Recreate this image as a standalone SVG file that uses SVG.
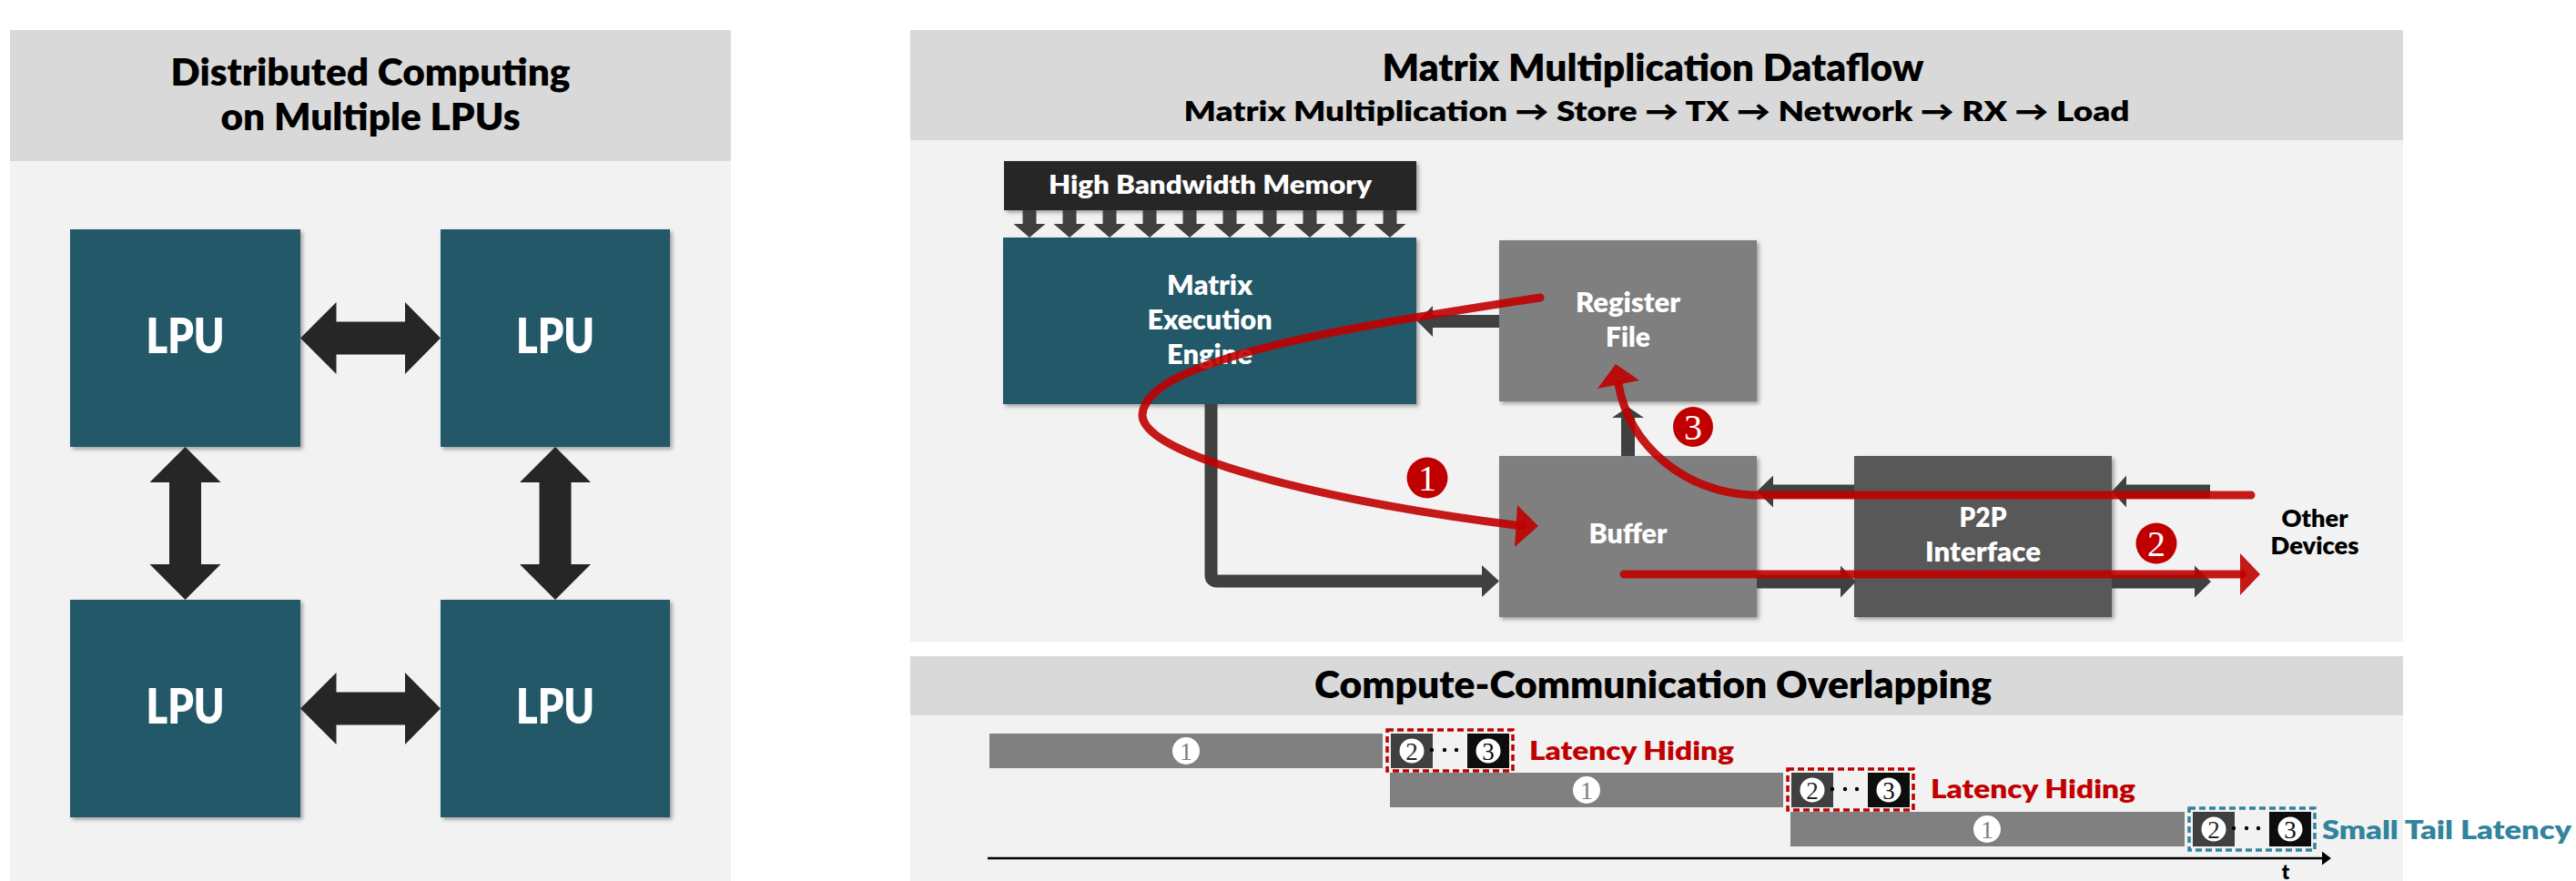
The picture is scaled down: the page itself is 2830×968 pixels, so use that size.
<svg xmlns="http://www.w3.org/2000/svg" width="2830" height="968" viewBox="0 0 2830 968">
<defs>
<style>
.hdr{fill:#d9d9d9}
.body{fill:#f2f2f2}
.t{font-family:Lato,'Open Sans','DejaVu Sans',sans-serif;font-weight:800}
.ttl{font-size:41px;fill:#000;text-anchor:middle}
.sub{font-size:30px;fill:#000;text-anchor:middle}
.w{fill:#fff;text-anchor:middle}
.lbl{font-size:30px}
.teal{fill:#215868}
.gray{fill:#7f7f7f}
.dark{fill:#595959}
.arr{fill:#404040}
.dbl{fill:#262626}
.redl{fill:none;stroke:#c00000;stroke-width:9;stroke-linecap:round;stroke-opacity:.9}
.redh{fill:#c00000;fill-opacity:.9}
.num{font-family:'Liberation Serif','DejaVu Serif',serif;text-anchor:middle}
.bar{fill:#808080}
.b2{fill:#404040}
.b3{fill:#0d0d0d}
.dr{fill:none;stroke:#c00000;stroke-width:3.5;stroke-dasharray:7 4}
.dt{fill:none;stroke:#31849b;stroke-width:3.5;stroke-dasharray:7 4}
.lh{font-size:29px;fill:#c00000}
</style>
<filter id="sh" x="-10%" y="-10%" width="130%" height="130%"><feDropShadow dx="2.5" dy="2.5" stdDeviation="2" flood-color="#000" flood-opacity="0.35"/></filter>
</defs>
<rect width="2830" height="968" fill="#fff"/>

<!-- Left panel -->
<g id="panel-left">
<rect class="hdr" x="11" y="33" width="792" height="144"/>
<rect class="body" x="11" y="177" width="792" height="791"/>
<text class="t ttl" x="407" y="94" textLength="439" lengthAdjust="spacingAndGlyphs">Distributed Computing</text>
<text class="t ttl" x="407" y="143" textLength="329" lengthAdjust="spacingAndGlyphs">on Multiple LPUs</text>
</g>
<g id="lpu-tl"><rect class="teal" x="77" y="252" width="253" height="239" filter="url(#sh)"/><text class="t w" x="203.5" y="388" font-size="52" textLength="86" lengthAdjust="spacingAndGlyphs">LPU</text></g>
<g id="lpu-tr"><rect class="teal" x="484" y="252" width="252" height="239" filter="url(#sh)"/><text class="t w" x="610" y="388" font-size="52" textLength="86" lengthAdjust="spacingAndGlyphs">LPU</text></g>
<g id="lpu-bl"><rect class="teal" x="77" y="659" width="253" height="239" filter="url(#sh)"/><text class="t w" x="203.5" y="795" font-size="52" textLength="86" lengthAdjust="spacingAndGlyphs">LPU</text></g>
<g id="lpu-br"><rect class="teal" x="484" y="659" width="252" height="239" filter="url(#sh)"/><text class="t w" x="610" y="795" font-size="52" textLength="86" lengthAdjust="spacingAndGlyphs">LPU</text></g>

<!-- Right top panel -->
<g id="panel-dataflow">
<rect class="hdr" x="1000" y="33" width="1640" height="121"/>
<rect class="body" x="1000" y="154" width="1640" height="551"/>
<text class="t ttl" x="1816" y="89" font-size="39" textLength="595" lengthAdjust="spacingAndGlyphs">Matrix Multiplication Dataflow</text>
<text class="t sub" x="1820" y="133" textLength="1039" lengthAdjust="spacingAndGlyphs">Matrix Multiplication → Store → TX → Network → RX → Load</text>
</g>
<g id="hbm">
<rect x="1103" y="177" width="453" height="54" fill="#262626" filter="url(#sh)"/>
<text class="t w" x="1329.5" y="213" font-size="29" textLength="355" lengthAdjust="spacingAndGlyphs">High Bandwidth Memory</text>
</g>
<g id="mee">
<rect class="teal" x="1102" y="261" width="454" height="183" filter="url(#sh)"/>
<text class="t w lbl" x="1329" y="324" textLength="94" lengthAdjust="spacingAndGlyphs">Matrix</text>
<text class="t w lbl" x="1329" y="362" textLength="137" lengthAdjust="spacingAndGlyphs">Execution</text>
<text class="t w lbl" x="1329" y="400" textLength="94" lengthAdjust="spacingAndGlyphs">Engine</text>
</g>
<g id="register-file">
<rect class="gray" x="1647" y="264" width="283" height="177" filter="url(#sh)"/>
<text class="t w lbl" x="1788.5" y="343" textLength="115" lengthAdjust="spacingAndGlyphs">Register</text>
<text class="t w lbl" x="1788.5" y="381" textLength="49" lengthAdjust="spacingAndGlyphs">File</text>
</g>
<g id="buffer">
<rect class="gray" x="1647" y="501" width="283" height="177" filter="url(#sh)"/>
<text class="t w lbl" x="1788.5" y="597" textLength="86" lengthAdjust="spacingAndGlyphs">Buffer</text>
</g>
<g id="p2p">
<rect class="dark" x="2037" y="501" width="283" height="177" filter="url(#sh)"/>
<text class="t w lbl" x="2178.5" y="579" textLength="52" lengthAdjust="spacingAndGlyphs">P2P</text>
<text class="t w lbl" x="2178.5" y="617" textLength="127" lengthAdjust="spacingAndGlyphs">Interface</text>
</g>
<g id="other-devices">
<text class="t" x="2543" y="579" font-size="27" text-anchor="middle" textLength="73" lengthAdjust="spacingAndGlyphs">Other</text>
<text class="t" x="2543" y="609" font-size="27" text-anchor="middle" textLength="97" lengthAdjust="spacingAndGlyphs">Devices</text>
</g>

<!-- Bottom panel -->
<g id="panel-overlap">
<rect class="hdr" x="1000" y="721" width="1640" height="65"/>
<rect class="body" x="1000" y="786" width="1640" height="182"/>
<text class="t ttl" x="1816" y="767" font-size="39" textLength="744" lengthAdjust="spacingAndGlyphs">Compute-Communication Overlapping</text>
</g>

<g id="timeline">
<g id="row1">
<rect class="bar" x="1087" y="806" width="432" height="38"/>
<circle cx="1303" cy="825" r="15" fill="#fff"/><text class="num" x="1303" y="834.5" font-size="28" fill="#808080">1</text>
<rect class="b2" x="1528" y="806" width="46" height="38"/>
<circle cx="1551" cy="825" r="13.5" fill="#fff"/><text class="num" x="1551" y="834.5" font-size="27" fill="#262626">2</text>
<circle cx="1573" cy="824" r="2.2" fill="#000"/><circle cx="1587" cy="824" r="2.2" fill="#000"/><circle cx="1600" cy="824" r="2.2" fill="#000"/>
<rect class="b3" x="1612" y="806" width="46" height="38"/>
<circle cx="1635" cy="825" r="13.5" fill="#fff"/><text class="num" x="1635" y="834.5" font-size="27" fill="#0d0d0d">3</text>
<rect class="dr" x="1524" y="802" width="138" height="45"/>
<text class="t lh" x="1680" y="835" textLength="225" lengthAdjust="spacingAndGlyphs">Latency Hiding</text>
</g>
<g id="row2">
<rect class="bar" x="1527" y="849" width="432" height="38"/>
<circle cx="1743" cy="868" r="15" fill="#fff"/><text class="num" x="1743" y="877.5" font-size="28" fill="#808080">1</text>
<rect class="b2" x="1968" y="849" width="46" height="38"/>
<circle cx="1991" cy="868" r="13.5" fill="#fff"/><text class="num" x="1991" y="877.5" font-size="27" fill="#262626">2</text>
<circle cx="2013" cy="867" r="2.2" fill="#000"/><circle cx="2027" cy="867" r="2.2" fill="#000"/><circle cx="2040" cy="867" r="2.2" fill="#000"/>
<rect class="b3" x="2052" y="849" width="46" height="38"/>
<circle cx="2075" cy="868" r="13.5" fill="#fff"/><text class="num" x="2075" y="877.5" font-size="27" fill="#0d0d0d">3</text>
<rect class="dr" x="1964" y="845" width="138" height="45"/>
<text class="t lh" x="2121" y="877" textLength="225" lengthAdjust="spacingAndGlyphs">Latency Hiding</text>
</g>
<g id="row3">
<rect class="bar" x="1967" y="892" width="433" height="38"/>
<circle cx="2183" cy="911" r="15" fill="#fff"/><text class="num" x="2183" y="920.5" font-size="28" fill="#808080">1</text>
<rect class="b2" x="2409" y="892" width="46" height="38"/>
<circle cx="2432" cy="911" r="13.5" fill="#fff"/><text class="num" x="2432" y="920.5" font-size="27" fill="#262626">2</text>
<circle cx="2454" cy="910" r="2.2" fill="#000"/><circle cx="2468" cy="910" r="2.2" fill="#000"/><circle cx="2481" cy="910" r="2.2" fill="#000"/>
<rect class="b3" x="2493" y="892" width="46" height="38"/>
<circle cx="2516" cy="911" r="13.5" fill="#fff"/><text class="num" x="2516" y="920.5" font-size="27" fill="#0d0d0d">3</text>
<rect class="dt" x="2405" y="888" width="138" height="46"/>
<text class="t" x="2551" y="922" font-size="29" fill="#31849b" textLength="274" lengthAdjust="spacingAndGlyphs">Small Tail Latency</text>
</g>
<g id="axis">
<line x1="1085" y1="943" x2="2553" y2="943" stroke="#000" stroke-width="2.5"/>
<polygon points="2561,943 2551,935.5 2551,950.5" fill="#000"/>
<text class="t" x="2511" y="966" font-size="22" text-anchor="middle">t</text>
</g>
</g>

<!-- Connectors -->
<g id="connectors">
<polygon class="dbl" points="330,371.5 369.5,332 369.5,353.5 445,353.5 445,332 484,371.5 445,411 445,389.5 369.5,389.5 369.5,411"/>
<polygon class="dbl" points="330,778.5 369.5,739 369.5,760.5 445,760.5 445,739 484,778.5 445,818 445,796.5 369.5,796.5 369.5,818"/>
<polygon class="dbl" points="203.5,491 164.5,530 186,530 186,620 164.5,620 203.5,659 242.5,620 221,620 221,530 242.5,530"/>
<polygon class="dbl" points="610,491 571,530 592.5,530 592.5,620 571,620 610,659 649,620 627.5,620 627.5,530 649,530"/>

<g class="arr">
<path d="M1123.5,231h15v15h10l-17.5,15l-17.5,-15h10z"/>
<path d="M1167.5,231h15v15h10l-17.5,15l-17.5,-15h10z"/>
<path d="M1211.5,231h15v15h10l-17.5,15l-17.5,-15h10z"/>
<path d="M1255.5,231h15v15h10l-17.5,15l-17.5,-15h10z"/>
<path d="M1299.5,231h15v15h10l-17.5,15l-17.5,-15h10z"/>
<path d="M1343.5,231h15v15h10l-17.5,15l-17.5,-15h10z"/>
<path d="M1387.5,231h15v15h10l-17.5,15l-17.5,-15h10z"/>
<path d="M1431.5,231h15v15h10l-17.5,15l-17.5,-15h10z"/>
<path d="M1475.5,231h15v15h10l-17.5,15l-17.5,-15h10z"/>
<path d="M1519.5,231h15v15h10l-17.5,15l-17.5,-15h10z"/>
</g>

<g class="arr">
<polygon points="1557,353 1574,336 1574,346 1647,346 1647,360 1574,360 1574,370"/>
<polygon points="1788.5,447 1806,459 1796,459 1796,501 1781,501 1781,459 1771,459"/>
<polygon points="1930,540 1948,522.5 1948,532.5 2037,532.5 2037,547.5 1948,547.5 1948,557.5"/>
<polygon points="2320,540 2336,522.5 2336,532.5 2428,532.5 2428,547.5 2336,547.5 2336,557.5"/>
<polygon points="2039,639 2022,621.5 2022,631.5 1930,631.5 1930,646.5 2022,646.5 2022,656.5"/>
<polygon points="2429,639 2411,621.5 2411,631.5 2320,631.5 2320,646.5 2411,646.5 2411,656.5"/>
</g>
<path d="M1330.5,444 V632 Q1330.5,638.5 1337,638.5 H1630" fill="none" stroke="#404040" stroke-width="14"/>
<polygon class="arr" points="1647,638.5 1628,621 1628,656"/>

<path class="redl" d="M1692,327 C1500,357 1258,392 1255,456 C1255,500 1450,550 1672,578"/>
<polygon class="redh" points="1690,578 1667,555 1664,601"/>
<path class="redl" d="M1784,631 H2463"/>
<polygon class="redh" points="2483,631 2461,608 2461,654"/>
<path class="redl" d="M2473,544 H1925 C1850,540 1790,490 1778,422"/>
<polygon class="redh" points="1775,400 1755,427 1801,418"/>
</g>

<g id="step-labels">
<circle cx="1568" cy="525" r="22.5" fill="#c00000"/><text class="num" x="1568" y="538.5" font-size="40" fill="#fff">1</text>
<circle cx="2369" cy="597" r="22.5" fill="#c00000"/><text class="num" x="2369" y="610.5" font-size="40" fill="#fff">2</text>
<circle cx="1860" cy="469" r="22" fill="#c00000"/><text class="num" x="1860" y="482.5" font-size="40" fill="#fff">3</text>
</g>
</svg>
